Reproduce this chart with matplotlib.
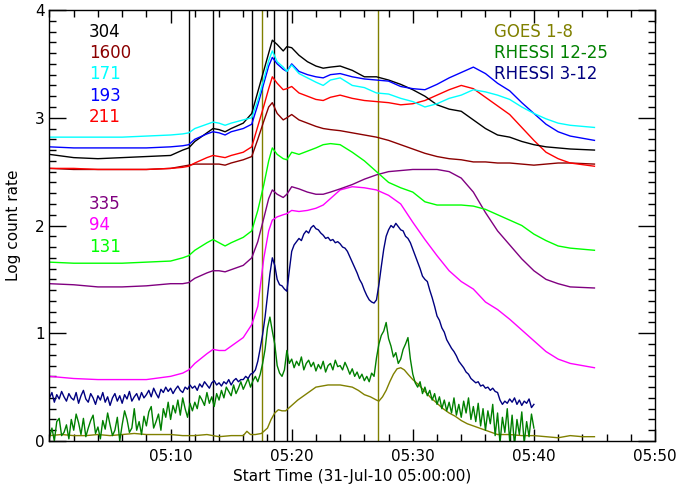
import matplotlib
matplotlib.use("Agg")
import matplotlib.pyplot as plt
import numpy as np

# ---------------- data (minutes after 05:00) ----------------
t_aia = [0, 2, 4, 6, 8, 10, 11, 11.5, 12, 13, 13.5, 14, 14.5, 15, 16, 16.7, 17.2, 17.7, 18.1, 18.4,
         18.8, 19.3, 19.6, 20, 20.6, 21.3, 22, 22.6, 23.2, 24, 25, 26, 27, 28, 29, 30, 31, 32, 33, 34,
         35, 36, 37, 38, 39, 40, 41, 42, 43, 45]

aia_304 = [2.66, 2.63, 2.62, 2.63, 2.64, 2.65, 2.70, 2.72, 2.78, 2.86, 2.90, 2.89, 2.87, 2.90, 2.95, 3.04, 3.24, 3.44, 3.60, 3.72,
           3.68, 3.62, 3.66, 3.65, 3.58, 3.52, 3.48, 3.46, 3.47, 3.48, 3.44, 3.38, 3.38, 3.35, 3.31, 3.26, 3.20, 3.12, 3.08, 3.06,
           2.98, 2.90, 2.84, 2.82, 2.78, 2.75, 2.73, 2.72, 2.71, 2.70]
aia_1600 = [2.53, 2.52, 2.52, 2.52, 2.52, 2.53, 2.55, 2.56, 2.57, 2.57, 2.57, 2.57, 2.56, 2.58, 2.61, 2.64, 2.80, 2.97, 3.10, 3.14,
            3.04, 2.98, 3.00, 3.03, 2.98, 2.95, 2.92, 2.90, 2.89, 2.88, 2.86, 2.84, 2.82, 2.79, 2.75, 2.71, 2.67, 2.64, 2.62, 2.61,
            2.59, 2.59, 2.58, 2.58, 2.57, 2.56, 2.57, 2.58, 2.58, 2.57]
aia_171 = [2.82, 2.82, 2.82, 2.82, 2.83, 2.84, 2.85, 2.86, 2.90, 2.94, 2.96, 2.95, 2.93, 2.95, 2.98, 3.00, 3.16, 3.36, 3.53, 3.62,
           3.52, 3.47, 3.43, 3.49, 3.41, 3.37, 3.33, 3.30, 3.35, 3.37, 3.30, 3.28, 3.23, 3.22, 3.18, 3.15, 3.10, 3.13, 3.18, 3.21,
           3.26, 3.24, 3.21, 3.17, 3.10, 3.04, 2.99, 2.95, 2.93, 2.91]
aia_193 = [2.73, 2.72, 2.72, 2.72, 2.72, 2.73, 2.74, 2.75, 2.80, 2.85, 2.87, 2.86, 2.84, 2.87, 2.90, 2.94, 3.12, 3.32, 3.48, 3.56,
           3.50, 3.45, 3.43, 3.50, 3.43, 3.40, 3.38, 3.37, 3.40, 3.41, 3.38, 3.36, 3.35, 3.34, 3.29, 3.27, 3.26, 3.31, 3.37, 3.42,
           3.47, 3.41, 3.32, 3.25, 3.14, 3.04, 2.94, 2.87, 2.83, 2.79]
aia_211 = [2.53, 2.53, 2.52, 2.52, 2.52, 2.53, 2.54, 2.55, 2.58, 2.63, 2.65, 2.64, 2.63, 2.65, 2.68, 2.73, 2.92, 3.11, 3.27, 3.38,
           3.32, 3.26, 3.27, 3.29, 3.23, 3.20, 3.17, 3.16, 3.19, 3.21, 3.18, 3.16, 3.15, 3.14, 3.12, 3.13, 3.16, 3.21, 3.26, 3.30,
           3.27, 3.19, 3.11, 3.03, 2.91, 2.79, 2.68, 2.62, 2.58, 2.55]
aia_335 = [1.46, 1.45, 1.43, 1.43, 1.44, 1.46, 1.46, 1.47, 1.51, 1.56, 1.58, 1.58, 1.57, 1.59, 1.63, 1.70, 1.85, 2.07, 2.25, 2.33,
           2.29, 2.26, 2.29, 2.36, 2.34, 2.31, 2.29, 2.29, 2.31, 2.34, 2.38, 2.43, 2.47, 2.50, 2.51, 2.52, 2.52, 2.52, 2.50, 2.44,
           2.31, 2.12, 1.95, 1.82, 1.69, 1.58, 1.50, 1.46, 1.43, 1.42]
aia_94 = [0.60, 0.58, 0.57, 0.57, 0.57, 0.60, 0.63, 0.66, 0.72, 0.81, 0.85, 0.84, 0.84, 0.88, 0.96, 1.08, 1.25, 1.70, 1.95, 2.05,
          2.08, 2.10, 2.11, 2.14, 2.13, 2.14, 2.16, 2.19, 2.25, 2.33, 2.36, 2.35, 2.33, 2.28, 2.20, 2.03, 1.87, 1.72, 1.58, 1.48,
          1.41, 1.29, 1.22, 1.13, 1.03, 0.93, 0.83, 0.76, 0.72, 0.68]
aia_131 = [1.66, 1.65, 1.65, 1.65, 1.66, 1.67, 1.70, 1.72, 1.77, 1.84, 1.87, 1.84, 1.81, 1.84, 1.89, 1.95, 2.14, 2.38, 2.60, 2.72,
           2.66, 2.62, 2.61, 2.68, 2.66, 2.69, 2.72, 2.75, 2.76, 2.75, 2.68, 2.60, 2.50, 2.40, 2.35, 2.31, 2.22, 2.19, 2.19, 2.19,
           2.18, 2.15, 2.10, 2.05, 2.00, 1.92, 1.86, 1.81, 1.79, 1.77]

# RHESSI, sampled every 0.2 min from 0 to 40 min
t_rhessi = [round(0.2 * i, 1) for i in range(201)]
rhessi_3_12 = [
    0.40, 0.45, 0.36, 0.43, 0.39, 0.46, 0.41, 0.37, 0.44, 0.40,
    0.38, 0.45, 0.35, 0.42, 0.47, 0.39, 0.36, 0.44, 0.40, 0.34,
    0.42, 0.38, 0.45, 0.36, 0.41, 0.33, 0.40, 0.44, 0.37, 0.42,
    0.35, 0.43, 0.39, 0.46, 0.37, 0.41, 0.44, 0.38, 0.45, 0.40,
    0.43, 0.47, 0.41, 0.49, 0.44, 0.40, 0.48, 0.45, 0.50, 0.46,
    0.49, 0.44, 0.48, 0.51, 0.47, 0.45, 0.50, 0.48, 0.52, 0.49,
    0.51, 0.47, 0.53, 0.50, 0.55, 0.52, 0.49, 0.54, 0.56, 0.52,
    0.54, 0.51, 0.55, 0.53, 0.57, 0.52, 0.56, 0.58, 0.55, 0.57,
    0.57, 0.60, 0.58, 0.62, 0.63, 0.66, 0.74, 0.86, 0.99, 1.15,
    1.35, 1.55, 1.70, 1.63, 1.50, 1.45, 1.44, 1.41, 1.39, 1.58,
    1.76, 1.82, 1.85, 1.88, 1.86, 1.92, 1.95, 1.93, 1.98, 2.00,
    1.97, 1.96, 1.93, 1.91, 1.88, 1.89, 1.86, 1.87, 1.84, 1.85,
    1.83, 1.80, 1.79, 1.76, 1.71, 1.66, 1.61, 1.56, 1.50, 1.46,
    1.40, 1.35, 1.31, 1.29, 1.28, 1.31, 1.45, 1.62, 1.78, 1.90,
    1.96, 2.00, 1.98, 2.02, 1.99, 1.96, 1.95, 1.90, 1.88, 1.84,
    1.78, 1.72, 1.66, 1.60, 1.53, 1.50, 1.48, 1.40, 1.33, 1.25,
    1.16, 1.12, 1.05, 1.01, 0.94, 0.90, 0.86, 0.83, 0.79, 0.74,
    0.71, 0.68, 0.64, 0.62, 0.58, 0.56, 0.54, 0.55, 0.51, 0.52,
    0.49, 0.50, 0.47, 0.49, 0.46, 0.45, 0.38, 0.34, 0.37, 0.35,
    0.39, 0.36, 0.40, 0.34, 0.38, 0.33, 0.37, 0.35, 0.39, 0.31,
    0.34]
rhessi_12_25 = [
    0.03, 0.12, 0.00, 0.18, 0.21, 0.05, 0.08, 0.15, 0.02, 0.20,
    0.10, 0.25, 0.17, 0.06, 0.21, 0.04, 0.12, 0.19, 0.24, 0.07,
    0.13, 0.02, 0.19, 0.11, 0.26, 0.15, 0.05, 0.10, 0.22, 0.00,
    0.15, 0.28, 0.20, 0.08, 0.12, 0.30, 0.10, 0.18, 0.06, 0.23,
    0.14, 0.27, 0.32, 0.12, 0.18, 0.25, 0.10, 0.30, 0.22, 0.36,
    0.20, 0.33, 0.26, 0.38, 0.24, 0.40, 0.30, 0.22, 0.35, 0.28,
    0.36, 0.30, 0.42, 0.38, 0.33, 0.45, 0.35, 0.41, 0.32, 0.44,
    0.38, 0.47, 0.40, 0.50, 0.46, 0.42, 0.52, 0.44, 0.49, 0.55,
    0.48, 0.53, 0.58, 0.50, 0.56, 0.60, 0.55, 0.62, 0.72, 0.85,
    1.05, 1.15, 1.02, 0.90, 0.70, 0.63, 0.60, 0.66, 0.84, 0.72,
    0.76, 0.68, 0.74, 0.70, 0.78, 0.66, 0.72, 0.75, 0.69, 0.73,
    0.65, 0.71, 0.67, 0.74, 0.64, 0.70, 0.72, 0.66, 0.75, 0.69,
    0.70, 0.66, 0.73, 0.68, 0.62, 0.67, 0.60, 0.64, 0.58, 0.62,
    0.56, 0.60, 0.55, 0.63, 0.60, 0.77, 0.90, 0.98, 1.02, 1.10,
    0.95, 0.88, 0.78, 0.82, 0.72, 0.76, 0.85, 0.90, 0.96, 0.76,
    0.62, 0.54, 0.50, 0.55, 0.44, 0.50, 0.42, 0.47, 0.38, 0.44,
    0.34, 0.41, 0.30, 0.38, 0.28, 0.36, 0.26, 0.40, 0.24, 0.34,
    0.22, 0.37, 0.26, 0.40, 0.20, 0.32, 0.18, 0.35, 0.14, 0.30,
    0.10, 0.28, 0.16, 0.34, 0.05, 0.26, -0.02, 0.22, 0.08, 0.30,
    0.00, 0.24, -0.04, 0.20, 0.06, 0.27, -0.02, 0.18, 0.04, 0.25,
    0.12]

t_goes = [0, 1, 2, 3, 4, 5, 6, 7, 8, 9, 10, 11, 12, 13, 14, 15, 16, 16.3, 16.6, 17, 17.5, 18, 18.3, 18.6,
          18.9, 19.2, 19.5, 19.8, 20.1, 20.5, 21, 21.5, 22, 22.5, 23, 23.5, 24, 24.5, 25, 25.5, 26, 26.5,
          27, 27.2, 27.5, 27.8, 28.1, 28.4, 28.7, 29, 29.3, 29.6, 30, 30.5, 31, 31.5, 32, 32.5, 33, 33.5,
          34, 34.5, 35, 35.5, 36, 36.5, 37, 38, 39, 40, 41, 42, 43, 44, 45]
goes_1_8 = [0.05, 0.06, 0.05, 0.05, 0.06, 0.05, 0.06, 0.07, 0.06, 0.06, 0.06, 0.05, 0.05, 0.06, 0.04, 0.05, 0.05, 0.09, 0.06, 0.06, 0.07, 0.12, 0.20, 0.26,
            0.29, 0.28, 0.28, 0.31, 0.34, 0.38, 0.42, 0.46, 0.50, 0.51, 0.52, 0.52, 0.52, 0.51, 0.50, 0.47, 0.43, 0.41,
            0.38, 0.37, 0.41, 0.47, 0.55, 0.62, 0.67, 0.68, 0.66, 0.62, 0.57, 0.52, 0.46, 0.40, 0.35, 0.30, 0.26, 0.23,
            0.19, 0.16, 0.14, 0.12, 0.10, 0.08, 0.06, 0.06, 0.05, 0.05, 0.04, 0.03, 0.05, 0.04, 0.04]

black_lines = [11.55, 13.5, 16.75, 18.5, 19.6]
olive_lines = [17.55, 27.15]

aia_labels = ["304", "1600", "171", "193", "211", "335", "94", "131"]
rhessi_labels = ["GOES 1-8", "RHESSI 12-25", "RHESSI 3-12"]
xtick_vals = [10, 20, 30, 40, 50]
xtick_labels = ["05:10", "05:20", "05:30", "05:40", "05:50"]

# ---------------- plot ----------------
col = {"304": "#000000", "1600": "#8b0000", "171": "#00ffff", "193": "#0000ff", "211": "#ff0000",
       "335": "#800080", "94": "#ff00ff", "131": "#00ff00",
       "GOES 1-8": "#808000", "RHESSI 12-25": "#008000", "RHESSI 3-12": "#000080"}

fig = plt.figure(figsize=(6.77, 4.84), dpi=100)
ax = fig.add_axes([49.5 / 677, 1 - 441 / 484, (655 - 49.5) / 677, (441 - 10) / 484])

lw = 1.0
for xv in black_lines:
    ax.axvline(xv, color="black", lw=1.0, zorder=1)
for xv in olive_lines:
    ax.axvline(xv, color="#808000", lw=1.0, zorder=1)

ax.plot(t_goes, goes_1_8, color=col["GOES 1-8"], lw=lw)
ax.plot(t_rhessi, rhessi_12_25, color=col["RHESSI 12-25"], lw=lw)
ax.plot(t_rhessi, rhessi_3_12, color=col["RHESSI 3-12"], lw=lw)
for name, ser in [("94", aia_94), ("335", aia_335), ("131", aia_131), ("1600", aia_1600),
                  ("211", aia_211), ("304", aia_304), ("193", aia_193), ("171", aia_171)]:
    ax.plot(t_aia, ser, color=col[name], lw=lw)

ax.set_xlim(0, 50)
ax.set_ylim(0, 4)
ax.set_xticks(xtick_vals)
ax.set_xticklabels(xtick_labels)
ax.set_xticks(np.arange(0, 51, 2), minor=True)
ax.set_yticks([0, 1, 2, 3, 4])
ax.set_yticklabels(["0", "1", "2", "3", "4"])
ax.set_yticks(np.arange(0, 4.01, 0.1), minor=True)
ax.tick_params(axis="both", which="both", direction="in", top=True, right=True, labelsize=11, width=1.0)
ax.tick_params(axis="y", which="major", length=12)
ax.tick_params(axis="y", which="minor", length=5)
ax.tick_params(axis="x", which="major", length=9, pad=6)
ax.tick_params(axis="x", which="minor", length=5)
for sp in ax.spines.values():
    sp.set_linewidth(1.0)

ax.set_xlabel("Start Time (31-Jul-10 05:00:00)", fontsize=11, labelpad=3)
ax.set_ylabel("Log count rate", fontsize=11, labelpad=10)

# channel labels (pixel positions converted to figure fraction)
left_y = [32, 53, 74, 96, 117, 204, 225, 247]
for lab, yp in zip(aia_labels, left_y):
    fig.text(89 / 677, 1 - yp / 484, lab, color=col[lab], fontsize=12, va="center", ha="left")
right_y = [32, 53, 74]
for lab, yp in zip(rhessi_labels, right_y):
    fig.text(494 / 677, 1 - yp / 484, lab, color=col[lab], fontsize=12, va="center", ha="left")

fig.savefig("out.png", dpi=100)
